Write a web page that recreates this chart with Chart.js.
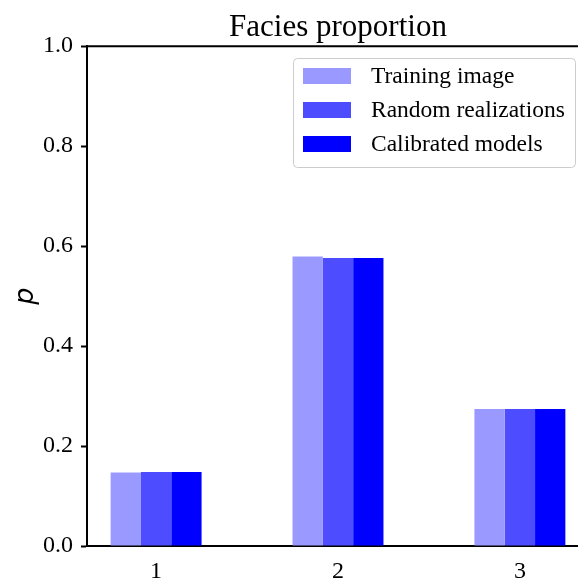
<!DOCTYPE html>
<html>
<head>
<meta charset="utf-8">
<script src="https://cdn.jsdelivr.net/npm/chart.js@4/dist/chart.umd.min.js"></script>
<style>
  html, body { margin: 0; padding: 0; background: #fff; overflow: hidden; }
  #wrap { width: 610px; height: 583px; }
</style>
</head>
<body>
<div id="wrap"><canvas id="facies-chart"></canvas></div>
<script>
const facies = [1, 2, 3];
const trainingImage = [0.147, 0.579, 0.274];
const randomRealizations = [0.148, 0.576, 0.274];
const calibratedModels = [0.148, 0.576, 0.274];
const yTicks = [0.0, 0.2, 0.4, 0.6, 0.8, 1.0];

const serif = "'Liberation Serif', 'Times New Roman', serif";
Chart.defaults.font.family = serif;
Chart.defaults.color = "#000";

// legend drawn inside the axes, plus the top spine
const frameLegend = {
  id: "frameLegend",
  afterDraw(chart) {
    const { ctx, chartArea } = chart;
    ctx.save();
    ctx.strokeStyle = "#000";
    ctx.lineWidth = 2;
    ctx.beginPath();
    ctx.moveTo(chartArea.left, chartArea.top);
    ctx.lineTo(chartArea.right, chartArea.top);
    ctx.stroke();

    const boxX = 293, boxY = 58, boxW = 282, boxH = 109;
    ctx.fillStyle = "rgba(255,255,255,0.8)";
    ctx.strokeStyle = "#cccccc";
    ctx.lineWidth = 1;
    ctx.beginPath();
    ctx.roundRect(boxX + 0.5, boxY + 0.5, boxW, boxH, 4);
    ctx.fill();
    ctx.stroke();

    ctx.font = "23.5px " + serif;
    ctx.textBaseline = "middle";
    ctx.textAlign = "left";
    chart.data.datasets.forEach((ds, i) => {
      const cy = 76 + i * 34;
      ctx.fillStyle = ds.backgroundColor;
      ctx.fillRect(303, cy - 8, 48, 16);
      ctx.fillStyle = "#000";
      ctx.fillText(ds.label, 371, cy + 1);
    });
    ctx.restore();
  }
};

const ctx = document.getElementById("facies-chart").getContext("2d");
new Chart(ctx, {
  type: "bar",
  data: {
    labels: facies,
    datasets: [
      { label: "Training image", data: trainingImage, backgroundColor: "#9999ff" },
      { label: "Random realizations", data: randomRealizations, backgroundColor: "#4d4dff" },
      { label: "Calibrated models", data: calibratedModels, backgroundColor: "#0000ff" }
    ]
  },
  options: {
    responsive: true,
    maintainAspectRatio: false,
    animation: false,
    devicePixelRatio: 1,
    categoryPercentage: 0.5,
    barPercentage: 1.0,
    borderWidth: 0,
    layout: { padding: { left: 0, right: 21, top: 0, bottom: 0 } },
    plugins: {
      legend: { display: false },
      tooltip: { enabled: false },
      title: {
        display: true,
        text: "Facies proportion",
        fullSize: false,
        color: "#000",
        font: { size: 31, weight: "normal", family: serif },
        padding: { top: 9, bottom: 0 }
      }
    },
    scales: {
      x: {
        type: "linear",
        offset: false,
        min: 0.62,
        max: 3.38,
        afterBuildTicks: (axis) => { axis.ticks = facies.map((v) => ({ value: v })); },
        afterFit: (axis) => { axis.height = 37; },
        grid: { display: true, drawOnChartArea: false, drawTicks: false },
        border: { display: true, color: "#000", width: 2 },
        ticks: { padding: 11, font: { size: 24, family: serif }, color: "#000" }
      },
      y: {
        min: 0,
        max: 1,
        afterBuildTicks: (axis) => { axis.ticks = yTicks.map((v) => ({ value: v })); },
        afterFit: (axis) => { axis.width = 87; },
        grid: { drawOnChartArea: false, drawTicks: true, tickLength: 6, tickWidth: 2, color: "#000" },
        border: { display: true, color: "#000", width: 2 },
        ticks: {
          padding: 8,
          font: { size: 24, family: serif },
          color: "#000",
          callback: (v) => Number(v).toFixed(1)
        },
        title: {
          display: true,
          text: "p",
          color: "#000",
          padding: { top: 10, bottom: 0 },
          font: { size: 27, style: "italic", family: "'DejaVu Sans', sans-serif" }
        }
      }
    }
  },
  plugins: [frameLegend]
});
</script>
</body>
</html>
